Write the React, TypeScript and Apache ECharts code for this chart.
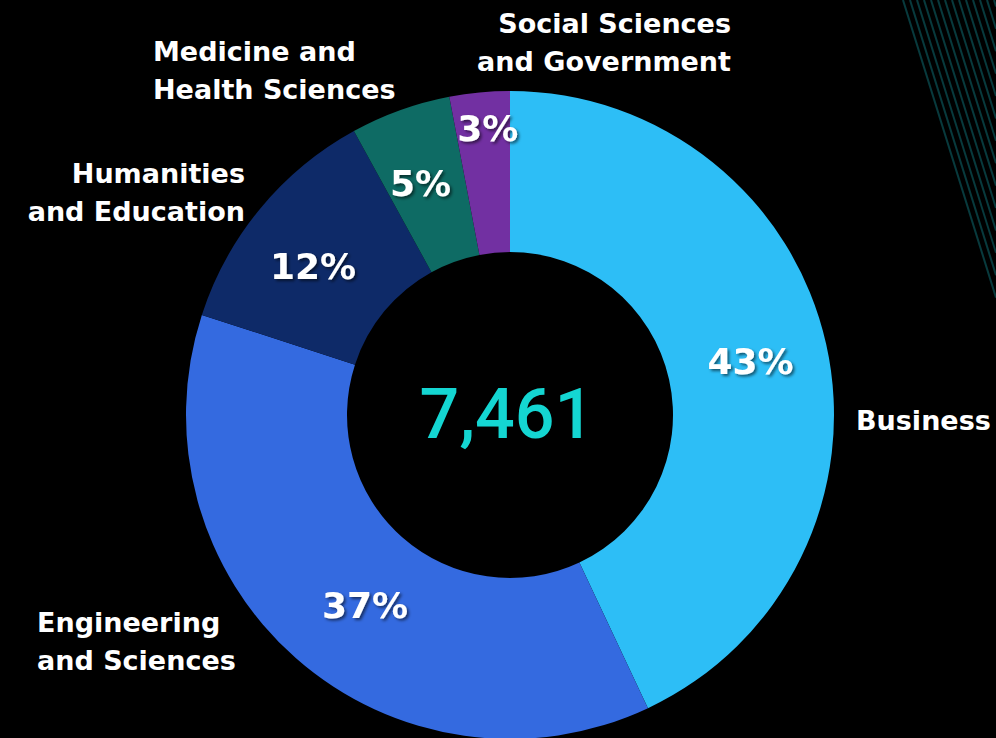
import React, { useEffect, useRef } from "react";
import * as echarts from "echarts";

const categories = [
  "Business",
  "Engineering\nand Sciences",
  "Humanities\nand Education",
  "Medicine and\nHealth Sciences",
  "Social Sciences\nand Government",
];
const shares = [43, 37, 12, 5, 3];
const total = "7,461";
const sliceColors = ["#2DBEF6", "#346AE0", "#0E2A68", "#0E6B64", "#7230A2"];

// outer category label placement (layout, not data)
const labelLayout = [
  { x: 856, y: 420, align: "left" },
  { x: 37, y: 641, align: "left" },
  { x: 245, y: 192, align: "right" },
  { x: 153, y: 70, align: "left" },
  { x: 731, y: 42, align: "right" },
];
// small nudges of the percentage labels (layout, not data)
const pctNudge = [
  { dx: 0, dy: 0 },
  { dx: 18, dy: 6 },
  { dx: -7, dy: 9 },
  { dx: -6, dy: 0 },
  { dx: 1, dy: -41 },
];

const FONT = "'DejaVu Sans', sans-serif";

export default function App() {
  const ref = useRef<HTMLDivElement>(null);
  useEffect(() => {
    document.body.style.margin = "0";
    const chart = echarts.init(ref.current!, undefined, { renderer: "svg" });
    const decoLines: any[] = [];
    for (let i = 0; i < 14; i++) {
      const x0 = 903 + 7 * i;
      const y1 = (996 - x0) * 3.2;
      decoLines.push({
        type: "line",
        shape: { x1: x0, y1: 0, x2: 996, y2: y1 },
        style: { stroke: "#083A3D", lineWidth: 2 },
        silent: true,
      });
    }
    const catTexts = categories.map((c, i) => ({
      type: "text",
      x: labelLayout[i].x,
      y: labelLayout[i].y,
      style: {
        text: c,
        fill: "#ffffff",
        font: `bold 27px ${FONT}`,
        align: labelLayout[i].align,
        verticalAlign: "middle",
        lineHeight: 38,
      },
    }));
    chart.setOption({
      animation: false,
      backgroundColor: "#000000",
      graphic: [
        ...decoLines,
        ...catTexts,
        {
          type: "text",
          x: 507,
          y: 414,
          style: {
            text: total,
            fill: "#14D6D2",
            font: `500 70px Roboto, sans-serif`,
            align: "center",
            verticalAlign: "middle",
          },
        },
      ],
      series: [
        {
          type: "pie",
          center: [510, 415],
          radius: [163, 324],
          startAngle: 90,
          clockwise: true,
          avoidLabelOverlap: false,
          minShowLabelAngle: 0,
          itemStyle: { borderWidth: 0 },
          label: {
            show: true,
            position: "inside",
            formatter: "{c}%",
            color: "#ffffff",
            fontFamily: FONT,
            fontWeight: "bold",
            fontSize: 36,
            textShadowColor: "rgba(0,0,0,0.55)",
            textShadowBlur: 3,
            textShadowOffsetX: 2,
            textShadowOffsetY: 2,
          },
          labelLayout: (p: any) => ({
            dx: pctNudge[p.dataIndex].dx,
            dy: pctNudge[p.dataIndex].dy,
            hideOverlap: false,
          }),
          labelLine: { show: false },
          emphasis: { disabled: true },
          data: shares.map((v, i) => ({
            name: categories[i],
            value: v,
            itemStyle: { color: sliceColors[i] },
          })),
        },
      ],
    });
    return () => chart.dispose();
  }, []);
  return (
    <div
      ref={ref}
      style={{ position: "fixed", left: 0, top: 0, width: 996, height: 738, background: "#000" }}
    />
  );
}
